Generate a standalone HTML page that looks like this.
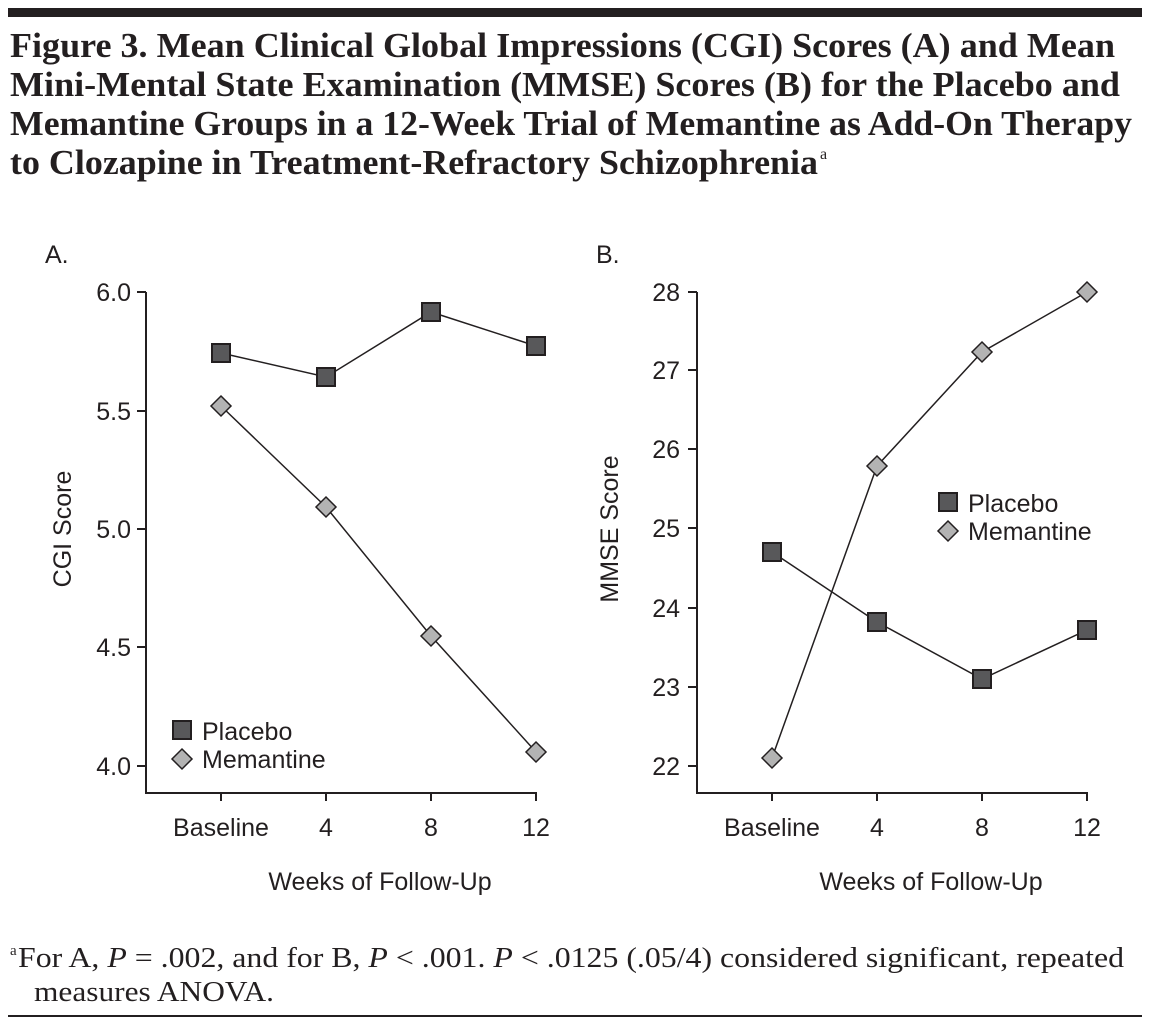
<!DOCTYPE html>
<html><head><meta charset="utf-8"><style>
html,body{margin:0;padding:0;background:#fff;}
svg{display:block;}
.t{font-family:"Liberation Serif",serif;font-size:35px;font-weight:bold;fill:#231f20;}
.f{font-family:"Liberation Serif",serif;font-size:28px;fill:#231f20;}
.s{font-family:"Liberation Sans",sans-serif;font-size:25px;fill:#231f20;}
</style></head><body>
<svg width="1152" height="1030" viewBox="0 0 1152 1030" xmlns="http://www.w3.org/2000/svg">
<rect x="8" y="8" width="1134" height="9" fill="#231f20"/>
<text class="t" x="10" y="57" textLength="1105" lengthAdjust="spacingAndGlyphs">Figure 3. Mean Clinical Global Impressions (CGI) Scores (A) and Mean</text>
<text class="t" x="10" y="96" textLength="1110" lengthAdjust="spacingAndGlyphs">Mini-Mental State Examination (MMSE) Scores (B) for the Placebo and</text>
<text class="t" x="10" y="135" textLength="1122" lengthAdjust="spacingAndGlyphs">Memantine Groups in a 12-Week Trial of Memantine as Add-On Therapy</text>
<text class="t" x="10" y="174" textLength="808" lengthAdjust="spacingAndGlyphs">to Clozapine in Treatment-Refractory Schizophrenia</text>
<text class="t" x="820" y="159" style="font-size:16px;font-weight:normal">a</text>

<!-- Panel A -->
<text class="s" x="45" y="263">A.</text>
<g stroke="#231f20" stroke-width="2" fill="none">
<path d="M146 292 V793 H537"/>
<path d="M137 292H146M137 411H146M137 529H146M137 647H146M137 766H146"/>
<path d="M221 793V801M326 793V801M431 793V801M536 793V801"/>
</g>
<g class="s" text-anchor="end">
<text x="131" y="301">6.0</text><text x="131" y="420">5.5</text><text x="131" y="538">5.0</text><text x="131" y="656">4.5</text><text x="131" y="775">4.0</text>
</g>
<g class="s" text-anchor="middle">
<text x="221" y="836">Baseline</text><text x="326" y="836">4</text><text x="431" y="836">8</text><text x="536" y="836">12</text>
<text x="380" y="890">Weeks of Follow-Up</text>
<text transform="translate(71 529) rotate(-90)">CGI Score</text>
</g>
<g stroke="#231f20" stroke-width="1.5" fill="none">
<polyline points="221,353 326,377 431,312 536,346"/>
<polyline points="221,406 326,507 431,636 536,752"/>
</g>
<g fill="#58585a" stroke="#231f20" stroke-width="2">
<rect x="212" y="344" width="18" height="18"/><rect x="317" y="368" width="18" height="18"/><rect x="422" y="303" width="18" height="18"/><rect x="527" y="337" width="18" height="18"/>
<rect x="173" y="721" width="18" height="18"/>
</g>
<g fill="#b3b3b3" stroke="#231f20" stroke-width="1.5">
<path d="M221 396l10 10-10 10-10-10z"/><path d="M326 497l10 10-10 10-10-10z"/><path d="M431 626l10 10-10 10-10-10z"/><path d="M536 742l10 10-10 10-10-10z"/>
<path d="M182 749l10 10-10 10-10-10z"/>
</g>
<text class="s" x="202" y="740">Placebo</text>
<text class="s" x="202" y="768">Memantine</text>

<!-- Panel B -->
<text class="s" x="596" y="263">B.</text>
<g stroke="#231f20" stroke-width="2" fill="none">
<path d="M697 292 V793 H1088"/>
<path d="M688 292H697M688 370H697M688 449H697M688 528H697M688 608H697M688 687H697M688 766H697"/>
<path d="M772 793V801M877 793V801M982 793V801M1087 793V801"/>
</g>
<g class="s" text-anchor="end">
<text x="680" y="301">28</text><text x="680" y="379">27</text><text x="680" y="458">26</text><text x="680" y="537">25</text><text x="680" y="617">24</text><text x="680" y="696">23</text><text x="680" y="775">22</text>
</g>
<g class="s" text-anchor="middle">
<text x="772" y="836">Baseline</text><text x="877" y="836">4</text><text x="982" y="836">8</text><text x="1087" y="836">12</text>
<text x="931" y="890">Weeks of Follow-Up</text>
<text transform="translate(618 529) rotate(-90)">MMSE Score</text>
</g>
<g stroke="#231f20" stroke-width="1.5" fill="none">
<polyline points="772,552 877,622 982,679 1087,630"/>
<polyline points="772,758 877,466 982,352 1087,292"/>
</g>
<g fill="#58585a" stroke="#231f20" stroke-width="2">
<rect x="763" y="543" width="18" height="18"/><rect x="868" y="613" width="18" height="18"/><rect x="973" y="670" width="18" height="18"/><rect x="1078" y="621" width="18" height="18"/>
<rect x="939" y="493" width="18" height="18"/>
</g>
<g fill="#b3b3b3" stroke="#231f20" stroke-width="1.5">
<path d="M772 748l10 10-10 10-10-10z"/><path d="M877 456l10 10-10 10-10-10z"/><path d="M982 342l10 10-10 10-10-10z"/><path d="M1087 282l10 10-10 10-10-10z"/>
<path d="M948 521l10 10-10 10-10-10z"/>
</g>
<text class="s" x="968" y="512">Placebo</text>
<text class="s" x="968" y="540">Memantine</text>

<!-- Footnote -->
<text class="f" x="10" y="955" style="font-size:15px">a</text>
<text class="f" x="18" y="967" textLength="1106" lengthAdjust="spacingAndGlyphs">For A, <tspan font-style="italic">P</tspan> = .002, and for B, <tspan font-style="italic">P</tspan> &lt; .001. <tspan font-style="italic">P</tspan> &lt; .0125 (.05/4) considered significant, repeated</text>
<text class="f" x="34" y="1001" textLength="240" lengthAdjust="spacingAndGlyphs">measures ANOVA.</text>
<rect x="8" y="1015" width="1134" height="2" fill="#231f20"/>
</svg>
</body></html>
